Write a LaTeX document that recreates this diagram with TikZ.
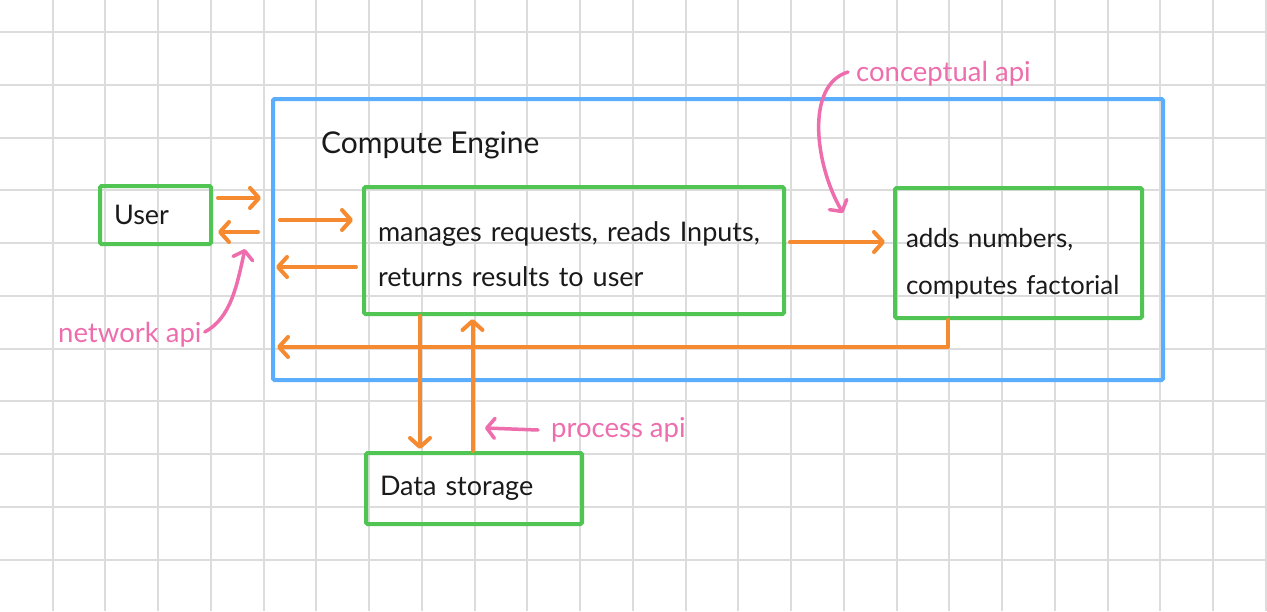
\documentclass[tikz,border=0pt]{standalone}
\usepackage{fontspec}
\setmainfont{Lato}
\usetikzlibrary{arrows.meta,calc}
\definecolor{gridc}{HTML}{DCDCDC}
\definecolor{boxgreen}{HTML}{50C553}
\definecolor{ceblue}{HTML}{5AAEFD}
\definecolor{arrowor}{HTML}{F58A30}
\definecolor{notepink}{HTML}{EE6DAD}
\definecolor{inkc}{HTML}{1A1A1A}
\begin{document}
\begin{tikzpicture}[x=1pt,y=-1pt,
  gbox/.style={draw=boxgreen,line width=4pt,rounded corners=1.5pt,inner xsep=14pt,inner ysep=0pt,
    align=left,text=inkc,font=\fontsize{27}{45}\selectfont},
  cbox/.style={draw=ceblue,line width=4pt,rounded corners=1.5pt,inner sep=0pt},
  oline/.style={draw=arrowor,line width=4pt,line cap=round,line join=round},
  oarrow/.style={oline,-{Straight Barb[length=9pt,width=20pt,round]}},
  pline/.style={draw=notepink,line width=3.5pt,line cap=round,line join=round},
  parrow/.style={pline,-{Straight Barb[length=8pt,width=20pt,round]}},
  note/.style={text=notepink,font=\fontsize{27.5}{30}\selectfont,inner sep=0pt,anchor=west},
  title/.style={text=inkc,font=\fontsize{30}{34}\selectfont,inner sep=0pt,anchor=west}]
\useasboundingbox (0,0) rectangle (1267,611);
\fill[white] (0,0) rectangle (1267,611);
% grid
\foreach \k in {0,...,23} \draw[gridc,line width=2pt] ({52.5+52.75*\k},0) -- ({52.5+52.75*\k},611);
\foreach \k in {0,...,10} \draw[gridc,line width=2pt] (0,{32+52.75*\k}) -- (1267,{32+52.75*\k});
% container
\node[cbox,minimum width=890pt,minimum height=281pt] (CE) at (718,239.5) {};
\node[title] (CEL) at (321,145) {Compute Engine};
% boxes
\node[gbox,minimum width=111pt,minimum height=58pt,text width=83pt] (User) at (155.5,215) {User};
\node[gbox,minimum width=420pt,minimum height=127pt,text width=392pt] (Mid) at (574,250.5)
  {\rule{0pt}{28pt}manages requests, reads Inputs,\\returns results to user};
\node[gbox,minimum width=247pt,minimum height=130pt,inner xsep=11pt,text width=225pt,font=\fontsize{26}{47}\selectfont] (Right) at (1018.5,253)
  {\rule{0pt}{40pt}adds numbers,\\\mbox{computes factorial}};
\node[gbox,minimum width=216pt,minimum height=71pt,text width=188pt] (Data) at (474,488.5) {Data storage};
% orange connectors
\draw[oarrow] ($(User.east)+(5,-17)$) -- ($(CE.west |- User.east)+(-10,-17)$);
\draw[oarrow] ($(CE.west |- User.east)+(-13,17)$) -- ($(User.east)+(5,17)$);
\draw[oarrow] ($(CE.west |- Mid.west)+(9,-30.5)$) -- ($(Mid.west)+(-9,-30.5)$);
\draw[oarrow] ($(Mid.west)+(-6,16.5)$) -- ($(CE.west |- Mid.west)+(5,16.5)$);
\draw[oarrow] ($(Mid.east)+(4,-8.5)$) -- ($(Right.west |- Mid.east)+(-8,-8.5)$);
\draw[oarrow] ($(Right.south west)+(55,0)$) |- ($(CE.west)+(6,107.5)$);
\draw[oarrow] ($(Mid.south west)+(58,0)$) -- ($(Data.north west)+(56,-2)$);
\draw[oarrow] ($(Data.north west)+(108.5,0)$) -- ($(Mid.south west)+(110.5,3)$);
% pink notes
\node[note] (NetL) at (58,335) {network api};
\coordinate (NetTip) at (245,249);
\draw[parrow] ($(NetL.east)+(3,-3)$) .. controls (231,318) and (237,285) .. (NetTip);
\node[note] (ConL) at (856,74) {conceptual api};
\coordinate (ConTip) at (843,213);
\draw[parrow] ($(ConL.west)+(-8,-2)$) .. controls (805,85) and (815,165) .. (ConTip);
\node[note] (ProcL) at (551,430) {process api};
\draw[parrow] ($(ProcL.west)+(-13,0)$) -- ($(Data.north west)+(121,-23)$);
\end{tikzpicture}
\end{document}
